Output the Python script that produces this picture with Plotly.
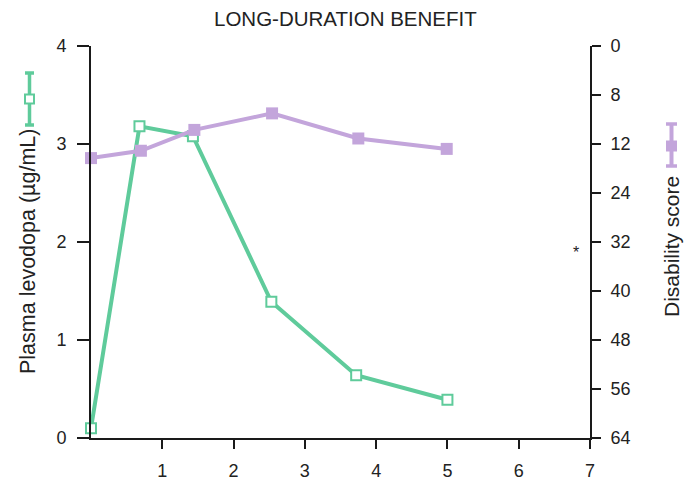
import plotly.graph_objects as go

# ---- data ----
levodopa_time = [0.0, 0.68, 1.43, 2.53, 3.72, 5.0]
levodopa_conc = [0.10, 3.18, 3.08, 1.39, 0.64, 0.39]

disability_time = [0.0, 0.70, 1.45, 2.54, 3.75, 4.99]
disability_score = [18.3, 17.1, 13.7, 11.0, 15.1, 16.8]

x_ticks = [1, 2, 3, 4, 5, 6, 7]
y_left_ticks = [0, 1, 2, 3, 4]
y_right_vals = [0, 8, 16, 24, 32, 40, 48, 56, 64]
y_right_text = ["0", "8", "12", "24", "32", "40", "48", "56", "64"]

GREEN = "#5FCB9B"
PURPLE = "#C3A5DB"
FONT = "Liberation Sans, Arial, sans-serif"
TXT = "#222222"

OFF = 8  # page body margin offset
W, H = 692 - OFF, 482 - OFF
L, R, T, B = 91 - OFF, 590 - OFF, 46 - OFF, 438 - OFF  # plot area in figure pixels


def px(xp):
    return (xp - OFF - L) / (R - L)


def py(yp):
    return (B - (yp - OFF)) / (B - T)


fig = go.Figure()

fig.add_trace(go.Scatter(
    x=disability_time, y=disability_score, yaxis="y2", mode="lines+markers",
    line=dict(color=PURPLE, width=4),
    marker=dict(symbol="square", size=12, color=PURPLE),
    showlegend=False, cliponaxis=False,
))
fig.add_trace(go.Scatter(
    x=levodopa_time, y=levodopa_conc, mode="lines+markers",
    line=dict(color=GREEN, width=4),
    marker=dict(symbol="square", size=10, color="white",
                line=dict(color=GREEN, width=2)),
    showlegend=False, cliponaxis=False,
))

shapes = []
# left legend icon (green, open square with error bar)
cx, y1, y2, ym = 29.5, 73, 125, 99
shapes.append(dict(type="line", xref="paper", yref="paper", x0=px(cx), x1=px(cx),
                   y0=py(y1), y1=py(y2), line=dict(color=GREEN, width=3.5)))
for yy in (y1, y2):
    shapes.append(dict(type="line", xref="paper", yref="paper", x0=px(cx - 4.5), x1=px(cx + 4.5),
                       y0=py(yy), y1=py(yy), line=dict(color=GREEN, width=3.5)))
shapes.append(dict(type="rect", xref="paper", yref="paper", x0=px(cx - 4.5), x1=px(cx + 4.5),
                   y0=py(ym - 4.5), y1=py(ym + 4.5), fillcolor="white",
                   line=dict(color=GREEN, width=2)))
# right legend icon (purple filled square with error bar)
cx, y1, y2, ym = 671.5, 124, 166, 146
shapes.append(dict(type="line", xref="paper", yref="paper", x0=px(cx), x1=px(cx),
                   y0=py(y1), y1=py(y2), line=dict(color=PURPLE, width=4)))
for yy in (y1, y2):
    shapes.append(dict(type="line", xref="paper", yref="paper", x0=px(cx - 5.5), x1=px(cx + 5.5),
                       y0=py(yy), y1=py(yy), line=dict(color=PURPLE, width=3.5)))
shapes.append(dict(type="rect", xref="paper", yref="paper", x0=px(cx - 5.5), x1=px(cx + 5.5),
                   y0=py(ym - 5.5), y1=py(ym + 5.5), fillcolor=PURPLE,
                   line=dict(color=PURPLE, width=0)))

ann_common = dict(xref="paper", yref="paper", showarrow=False,
                  xanchor="center", yanchor="middle")
annotations = [
    dict(text="LONG-DURATION BENEFIT", x=px(345), y=py(18),
         font=dict(size=20.5, color=TXT, family=FONT), **ann_common),
    dict(text="Plasma levodopa (µg/mL)", x=px(28), y=py(252), textangle=-90,
         font=dict(size=21.5, color=TXT, family=FONT), **ann_common),
    dict(text="Disability score", x=px(671), y=py(247), textangle=-90,
         font=dict(size=21, color=TXT, family=FONT), **ann_common),
    dict(text="*", x=px(576), y=py(252),
         font=dict(size=16, color=TXT, family=FONT), **ann_common),
]

axis_common = dict(showline=True, linecolor="#1a1a1a", linewidth=2, ticks="outside",
                   tickcolor="#1a1a1a", tickwidth=1.5, showgrid=False, zeroline=False,
                   automargin=False, tickfont=dict(size=18, color=TXT, family=FONT))

fig.update_layout(
    width=W, height=H,
    margin=dict(l=L, r=W - R, t=T, b=H - B, pad=0, autoexpand=False),
    paper_bgcolor="white", plot_bgcolor="white",
    xaxis=dict(range=[0, 7], tickvals=x_ticks, ticklen=9, ticklabelstandoff=6, **axis_common),
    yaxis=dict(range=[0, 4], tickvals=y_left_ticks, ticklen=12, ticklabelstandoff=7, **axis_common),
    yaxis2=dict(range=[64, 0], overlaying="y", side="right", tickvals=y_right_vals,
                ticktext=y_right_text, ticklen=9, ticklabelstandoff=6, **axis_common),
    shapes=shapes, annotations=annotations,
)

fig.write_html("out.html")
